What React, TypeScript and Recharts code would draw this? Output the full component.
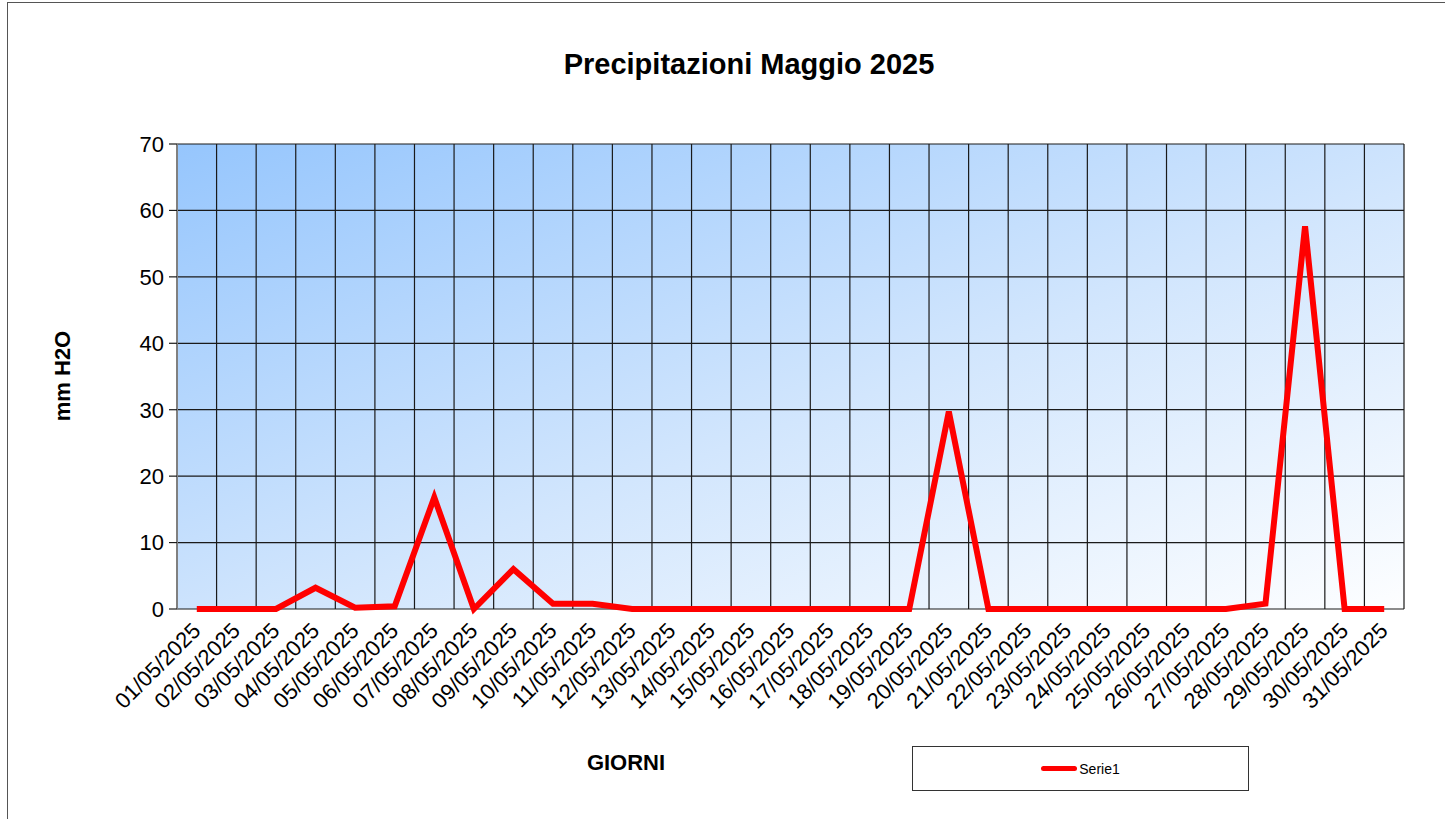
import {
  CartesianGrid,
  Line,
  LineChart,
  XAxis,
  YAxis,
} from "recharts";

const DAYS = [
  "01/05/2025", "02/05/2025", "03/05/2025", "04/05/2025", "05/05/2025",
  "06/05/2025", "07/05/2025", "08/05/2025", "09/05/2025", "10/05/2025",
  "11/05/2025", "12/05/2025", "13/05/2025", "14/05/2025", "15/05/2025",
  "16/05/2025", "17/05/2025", "18/05/2025", "19/05/2025", "20/05/2025",
  "21/05/2025", "22/05/2025", "23/05/2025", "24/05/2025", "25/05/2025",
  "26/05/2025", "27/05/2025", "28/05/2025", "29/05/2025", "30/05/2025",
  "31/05/2025",
];
const RAIN_MM = [
  0, 0, 0, 3.2, 0.2, 0.4, 16.8, 0, 6, 0.8,
  0.8, 0, 0, 0, 0, 0, 0, 0, 0, 29.7,
  0, 0, 0, 0, 0, 0, 0, 0.8, 57.6, 0,
  0,
];
const Y_TICKS = [0, 10, 20, 30, 40, 50, 60, 70];
// category centres sit on 1..31, boundaries on 0.5..31.5
const CENTER_TICKS = DAYS.map((_, i) => i + 1);
const EDGE_TICKS = [...DAYS.map((_, i) => i + 0.5), DAYS.length + 0.5];

const data = DAYS.map((d, i) => ({ pos: i + 1, day: d, rain: RAIN_MM[i] }));

const FONT = '"Liberation Sans", Arial, sans-serif';
const RED = "#ff0000";
const GRID = "#1a1a1a";
const AXIS = "#808080";

function SerieLegend() {
  return (
    <div
      style={{
        position: "absolute",
        left: 912,
        top: 746,
        width: 337,
        height: 45,
        border: "1.5px solid #333",
        display: "flex",
        alignItems: "center",
        justifyContent: "center",
        fontFamily: FONT,
        fontSize: 14,
        color: "#000",
        boxSizing: "border-box",
        background: "#fff",
      }}
    >
      <span style={{ width: 36, height: 5, background: RED, borderRadius: 3, marginRight: 2 }} />
      Serie1
    </div>
  );
}

export default function App() {
  return (
    <div
      style={{
        position: "fixed",
        left: 0,
        top: 0,
        width: 1445,
        height: 819,
        background: "#fff",
        fontFamily: FONT,
      }}
    >
      <div
        style={{
          position: "absolute",
          left: 7,
          top: 2,
          right: 0,
          bottom: 0,
          borderTop: "1.5px solid #555",
          borderLeft: "1.5px solid #555",
        }}
      />
      <div
        style={{
          position: "absolute",
          left: 749,
          top: 64,
          transform: "translate(-50%, -50%)",
          fontWeight: "bold",
          fontSize: 29,
          whiteSpace: "nowrap",
        }}
      >
        Precipitazioni Maggio 2025
      </div>
      <div
        style={{
          position: "absolute",
          left: 63,
          top: 376,
          transform: "translate(-50%, -50%) rotate(-90deg)",
          fontWeight: "bold",
          fontSize: 22,
          whiteSpace: "nowrap",
        }}
      >
        mm H2O
      </div>
      <div
        style={{
          position: "absolute",
          left: 626,
          top: 763,
          transform: "translate(-50%, -50%)",
          fontWeight: "bold",
          fontSize: 22,
        }}
      >
        GIORNI
      </div>
      <LineChart
        width={1445}
        height={819}
        data={data}
        margin={{ top: 144, right: 41, left: 117, bottom: 110 }}
        style={{ position: "absolute", left: 0, top: 0 }}
      >
        <defs>
          <linearGradient id="plot-bg" x1="0" y1="0" x2="1" y2="1">
            <stop offset="0%" stopColor="#96c6fd" />
            <stop offset="55%" stopColor="#d2e6fd" />
            <stop offset="100%" stopColor="#fdfeff" />
          </linearGradient>
        </defs>
        <CartesianGrid
          xAxisId="edge"
          stroke={GRID}
          strokeWidth={1.2}
          fill="url(#plot-bg)"
          fillOpacity={1}
        />
        <XAxis
          xAxisId="edge"
          dataKey="pos"
          type="number"
          domain={[0.5, DAYS.length + 0.5]}
          ticks={EDGE_TICKS}
          interval={0}
          tickFormatter={() => ""}
          height={0}
          tickSize={7}
          tickLine={{ stroke: GRID, strokeWidth: 1.2 }}
          axisLine={{ stroke: AXIS, strokeWidth: 2 }}
        />
        <XAxis
          xAxisId="day"
          dataKey="pos"
          type="number"
          domain={[0.5, DAYS.length + 0.5]}
          ticks={CENTER_TICKS}
          interval={0}
          tickFormatter={(v: number) => DAYS[v - 1]}
          tickLine={false}
          axisLine={false}
          angle={-45}
          textAnchor="end"
          fontSize={22}
          tick={{ fill: "#000", fontSize: 22, fontFamily: FONT, dx: -6 }}
          tickMargin={6}
          height={100}
        />
        <YAxis
          domain={[0, 70]}
          ticks={Y_TICKS}
          interval={0}
          fontSize={22}
          tick={{ fill: "#000", fontSize: 22, fontFamily: FONT }}
          tickSize={8}
          tickMargin={5}
          tickLine={{ stroke: GRID, strokeWidth: 1.2 }}
          axisLine={{ stroke: AXIS, strokeWidth: 2 }}
          width={60}
        />
        <Line
          xAxisId="day"
          dataKey="rain"
          name="Serie1"
          type="linear"
          stroke={RED}
          strokeWidth={6}
          strokeLinejoin="miter"
          dot={false}
          activeDot={false}
          isAnimationActive={false}
        />
      </LineChart>
      <SerieLegend />
    </div>
  );
}
